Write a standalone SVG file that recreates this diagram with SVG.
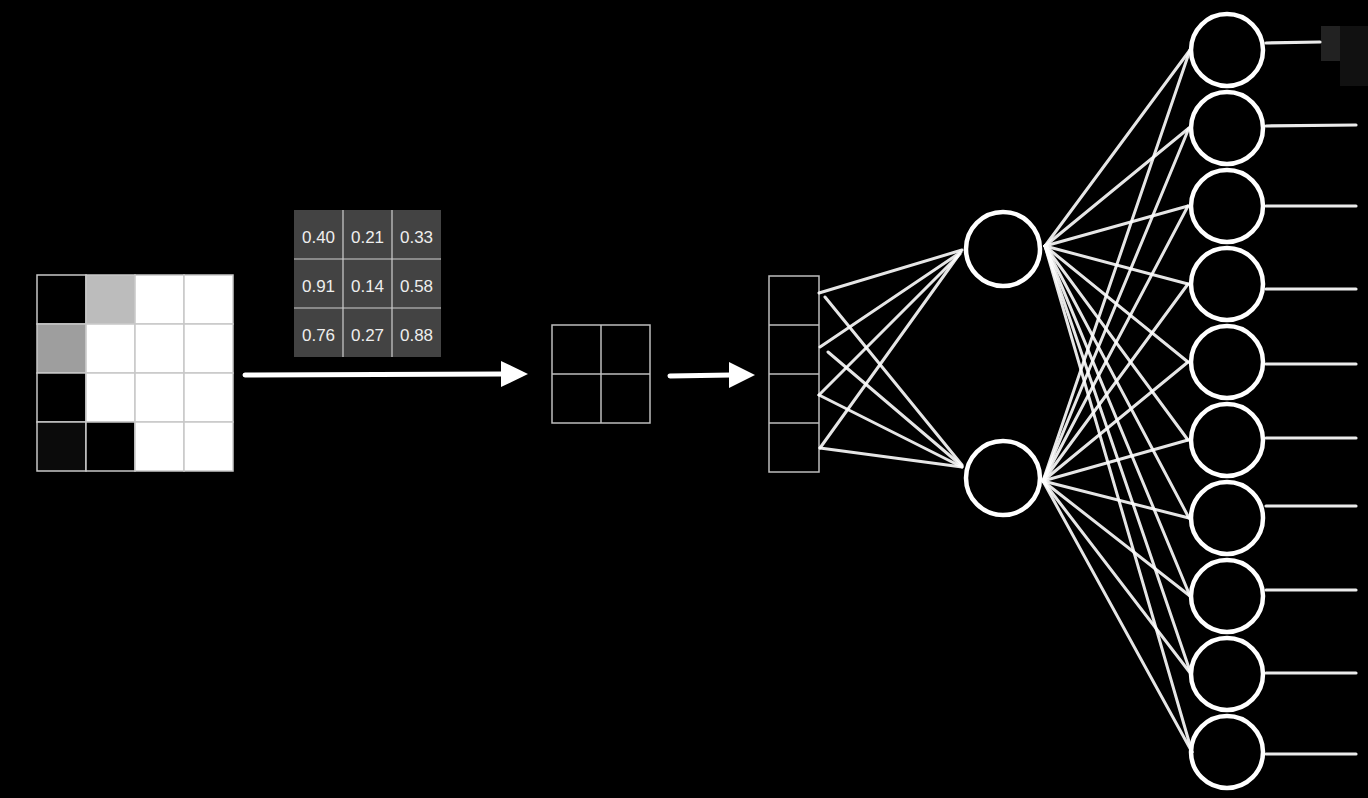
<svg xmlns="http://www.w3.org/2000/svg" width="1368" height="798" viewBox="0 0 1368 798">
<style>
.kt{font-family:"Liberation Sans",Arial,sans-serif;font-size:17px;fill:#eeeeee;text-anchor:middle}
.cell{stroke:#c8c8c8;stroke-width:1.5}
.thin{fill:none;stroke:#bdbdbd;stroke-width:1.5}
.edge{stroke:#ffffff;stroke-width:3;stroke-linecap:round;opacity:0.9}
.node{fill:none;stroke:#ffffff;stroke-width:4.5}
.out{stroke:#ffffff;stroke-width:3.2;stroke-linecap:round;opacity:0.92}
.arrow{stroke:#ffffff;stroke-width:5;stroke-linecap:round}
.head{fill:#ffffff}
</style>
<rect x="0" y="0" width="1368" height="798" fill="#000"/>
<rect x="1321" y="26" width="19" height="35" fill="#222"/>
<rect x="1340" y="26" width="28" height="60" fill="#111"/>

<g id="input-image">
<rect x="37" y="275" width="49" height="49" fill="#000" class="cell"/>
<rect x="86" y="275" width="49" height="49" fill="#bcbcbc" class="cell"/>
<rect x="135" y="275" width="49" height="49" fill="#fff" class="cell"/>
<rect x="184" y="275" width="49" height="49" fill="#fff" class="cell"/>
<rect x="37" y="324" width="49" height="49" fill="#9e9e9e" class="cell"/>
<rect x="86" y="324" width="49" height="49" fill="#fff" class="cell"/>
<rect x="135" y="324" width="49" height="49" fill="#fff" class="cell"/>
<rect x="184" y="324" width="49" height="49" fill="#fff" class="cell"/>
<rect x="37" y="373" width="49" height="49" fill="#000" class="cell"/>
<rect x="86" y="373" width="49" height="49" fill="#fff" class="cell"/>
<rect x="135" y="373" width="49" height="49" fill="#fff" class="cell"/>
<rect x="184" y="373" width="49" height="49" fill="#fff" class="cell"/>
<rect x="37" y="422" width="49" height="49" fill="#0b0b0b" class="cell"/>
<rect x="86" y="422" width="49" height="49" fill="#000" class="cell"/>
<rect x="135" y="422" width="49" height="49" fill="#fff" class="cell"/>
<rect x="184" y="422" width="49" height="49" fill="#fff" class="cell"/>
</g>

<g id="kernel">
<rect x="294" y="210" width="147" height="147" fill="#434343"/>
<path d="M343 210V357M392 210V357M294 259H441M294 308H441" stroke="#cfcfcf" stroke-width="1.2" fill="none"/>
<text class="kt" x="318.5" y="243">0.40</text>
<text class="kt" x="367.5" y="243">0.21</text>
<text class="kt" x="416.5" y="243">0.33</text>
<text class="kt" x="318.5" y="292">0.91</text>
<text class="kt" x="367.5" y="292">0.14</text>
<text class="kt" x="416.5" y="292">0.58</text>
<text class="kt" x="318.5" y="341">0.76</text>
<text class="kt" x="367.5" y="341">0.27</text>
<text class="kt" x="416.5" y="341">0.88</text>
</g>

<g id="feature-map">
<rect x="552" y="325" width="98" height="98" class="thin"/>
<path d="M601 325V423M552 374H650" class="thin"/>
</g>

<g id="flattened">
<rect x="769" y="276" width="50" height="196" class="thin"/>
<path d="M769 325H819M769 374H819M769 423H819" class="thin"/>
</g>

<g id="hidden-1"><circle cx="1003" cy="249" r="37" class="node"/></g>
<g id="hidden-2"><circle cx="1003" cy="478" r="37" class="node"/></g>

<g id="output-nodes">
<g id="out-0"><circle cx="1227" cy="50" r="36" class="node"/></g>
<g id="out-1"><circle cx="1227" cy="128" r="36" class="node"/></g>
<g id="out-2"><circle cx="1227" cy="206" r="36" class="node"/></g>
<g id="out-3"><circle cx="1227" cy="284" r="36" class="node"/></g>
<g id="out-4"><circle cx="1227" cy="362" r="36" class="node"/></g>
<g id="out-5"><circle cx="1227" cy="440" r="36" class="node"/></g>
<g id="out-6"><circle cx="1227" cy="518" r="36" class="node"/></g>
<g id="out-7"><circle cx="1227" cy="596" r="36" class="node"/></g>
<g id="out-8"><circle cx="1227" cy="674" r="36" class="node"/></g>
<g id="out-9"><circle cx="1227" cy="752" r="36" class="node"/></g>
</g>

<g id="connectors">
<line class="arrow" x1="245" y1="375" x2="502" y2="374"/>
<polygon class="head" points="501,361 528,374 501,387"/>
<line class="arrow" x1="670" y1="376" x2="731" y2="375"/>
<polygon class="head" points="729,362 755,375 729,388"/>

<line class="edge" x1="819" y1="293" x2="962" y2="250"/>
<line class="edge" x1="820" y1="347" x2="961" y2="252"/>
<line class="edge" x1="819" y1="395" x2="960" y2="254"/>
<line class="edge" x1="820" y1="448" x2="958" y2="256"/>
<line class="edge" x1="825" y1="297" x2="962" y2="465"/>
<line class="edge" x1="828" y1="352" x2="962" y2="466"/>
<line class="edge" x1="819" y1="395" x2="962" y2="467"/>
<line class="edge" x1="820" y1="448" x2="962" y2="467"/>

<line class="edge" x1="1045" y1="246" x2="1190" y2="50"/>
<line class="edge" x1="1045" y1="246" x2="1189" y2="128"/>
<line class="edge" x1="1045" y1="246" x2="1188" y2="206"/>
<line class="edge" x1="1045" y1="246" x2="1188" y2="284"/>
<line class="edge" x1="1045" y1="246" x2="1188" y2="362"/>
<line class="edge" x1="1045" y1="246" x2="1188" y2="440"/>
<line class="edge" x1="1045" y1="246" x2="1189" y2="518"/>
<line class="edge" x1="1045" y1="246" x2="1190" y2="596"/>
<line class="edge" x1="1045" y1="246" x2="1191" y2="674"/>
<line class="edge" x1="1045" y1="246" x2="1192" y2="752"/>
<line class="edge" x1="1043" y1="481" x2="1190" y2="50"/>
<line class="edge" x1="1043" y1="481" x2="1189" y2="128"/>
<line class="edge" x1="1043" y1="481" x2="1188" y2="206"/>
<line class="edge" x1="1043" y1="481" x2="1188" y2="284"/>
<line class="edge" x1="1043" y1="481" x2="1188" y2="362"/>
<line class="edge" x1="1043" y1="481" x2="1188" y2="440"/>
<line class="edge" x1="1043" y1="481" x2="1189" y2="518"/>
<line class="edge" x1="1043" y1="481" x2="1190" y2="596"/>
<line class="edge" x1="1043" y1="481" x2="1191" y2="674"/>
<line class="edge" x1="1043" y1="481" x2="1192" y2="752"/>

<line class="out" x1="1266" y1="43" x2="1320" y2="42"/>
<line class="out" x1="1266" y1="126" x2="1356" y2="125"/>
<line class="out" x1="1266" y1="206" x2="1356" y2="206"/>
<line class="out" x1="1266" y1="289" x2="1356" y2="289"/>
<line class="out" x1="1266" y1="364" x2="1356" y2="364"/>
<line class="out" x1="1266" y1="438" x2="1356" y2="438"/>
<line class="out" x1="1266" y1="506" x2="1356" y2="506"/>
<line class="out" x1="1266" y1="590" x2="1356" y2="590"/>
<line class="out" x1="1266" y1="673" x2="1356" y2="673"/>
<line class="out" x1="1266" y1="754" x2="1356" y2="754"/>
</g>
</svg>
